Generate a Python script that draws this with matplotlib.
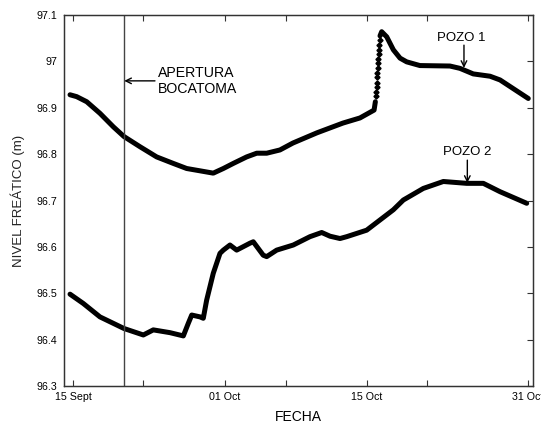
import matplotlib.pyplot as plt
from matplotlib.ticker import FixedLocator, NullFormatter

plt.rcParams['font.family'] = ['Liberation Sans', 'DejaVu Sans']

# days counted from 15 Sept
pozo1_dias = [-0.33, 0.34, 1.36, 2.70, 4.05, 5.13, 6.75, 8.44, 10.12, 11.48, 12.83,
              14.17, 15.19, 16.20, 17.55, 18.57, 19.58, 20.92, 22.24, 24.67, 27.30,
              29.02, 30.45, 30.58]
pozo1_nivel = [96.928, 96.924, 96.913, 96.888, 96.859, 96.838, 96.816, 96.794, 96.780,
               96.769, 96.764, 96.759, 96.769, 96.780, 96.794, 96.802, 96.802, 96.809,
               96.824, 96.846, 96.867, 96.878, 96.895, 96.913]

# steep rise, points visible one by one
salto_dias = [30.64, 30.67, 30.70, 30.73, 30.76, 30.79, 30.82, 30.85, 30.88, 30.91,
              30.94, 30.97, 31.00]
salto_nivel = [96.925, 96.935, 96.945, 96.954, 96.966, 96.974, 96.985, 96.996, 97.005,
               97.015, 97.025, 97.035, 97.046]

pozo1b_dias = [31.05, 31.22, 31.73, 32.40, 33.08, 33.75, 35.09, 38.13, 39.14, 40.49,
               42.19, 43.20, 46.06]
pozo1b_nivel = [97.055, 97.064, 97.053, 97.025, 97.007, 96.999, 96.991, 96.990, 96.985,
                96.973, 96.968, 96.960, 96.920]

pozo2_dias = [-0.33, 1.01, 2.70, 5.13, 7.09, 8.10, 9.79, 11.14, 11.64, 11.99, 12.83,
              13.16, 13.50, 14.17, 14.85, 15.19, 15.86, 16.54, 17.89, 18.22, 19.23,
              19.58, 20.59, 22.27, 23.96, 25.15, 25.99, 27.00, 27.68, 29.70, 31.05,
              32.40, 33.41, 35.43, 37.46, 39.83, 41.51, 43.20, 45.90]
pozo2_nivel = [96.498, 96.478, 96.449, 96.424, 96.410, 96.421, 96.415, 96.408, 96.435,
               96.453, 96.449, 96.446, 96.485, 96.543, 96.586, 96.593, 96.604, 96.593,
               96.608, 96.611, 96.582, 96.579, 96.593, 96.604, 96.622, 96.631, 96.623,
               96.618, 96.622, 96.636, 96.658, 96.680, 96.701, 96.726, 96.741, 96.737,
               96.737, 96.719, 96.694]

xticks_major = [0, 15.36, 29.70, 46]
xticks_labels = ['15 Sept', '01 Oct', '15 Oct', '31 Oct']
xticks_minor = [7.09, 21.5, 35.78]
yticks = [96.3, 96.4, 96.5, 96.6, 96.7, 96.8, 96.9, 97.0, 97.1]
ytick_labels = ['96.3', '96.4', '96.5', '96.6', '96.7', '96.8', '96.9', '97', '97.1']
apertura_dia = 5.16

fig = plt.figure(figsize=(5.41, 4.23), dpi=100)
ax = fig.add_axes([0.1183, 0.0875, 0.8664, 0.877])

ax.plot(pozo1_dias, pozo1_nivel, color='black', lw=3.6, solid_capstyle='round', solid_joinstyle='round')
ax.plot(salto_dias, salto_nivel, 'D', color='black', ms=2.6, mec='black')
ax.plot(pozo1b_dias, pozo1b_nivel, color='black', lw=3.6, solid_capstyle='round', solid_joinstyle='round')
ax.plot(pozo2_dias, pozo2_nivel, color='black', lw=3.6, solid_capstyle='round', solid_joinstyle='round')

ax.axvline(apertura_dia, color='#444444', lw=1)

ax.set_xlim(-0.94, 46.51)
ax.set_ylim(96.3, 97.1)

ax.xaxis.set_major_locator(FixedLocator(xticks_major + xticks_minor))
ax.set_xticklabels(xticks_labels + ['', '', ''])
ax.set_yticks(yticks)
ax.set_yticklabels(ytick_labels)
ax.tick_params(axis='x', direction='in', length=4, width=0.8, top=True, labelsize=7.7, pad=4, color='#333333')
ax.tick_params(axis='y', direction='in', length=0, right=False, labelsize=7.7, pad=5)

# right side ticks drawn inward
ax2 = ax.twinx()
ax2.set_ylim(96.3, 97.1)
ax2.set_yticks(yticks)
ax2.yaxis.set_major_formatter(NullFormatter())
ax2.tick_params(axis='y', direction='in', length=4, width=0.8, color='#333333')

for a in (ax, ax2):
    for s in a.spines.values():
        s.set_color('#333333')
        s.set_linewidth(0.9)

ax.set_xlabel('FECHA', fontsize=10, labelpad=6)
ax.set_ylabel('NIVEL FREÁTICO (m)', fontsize=9.5, labelpad=8, color='#222222')

arrow = dict(arrowstyle='->', color='black', lw=1, shrinkA=0, shrinkB=0)
ax.annotate('', xy=(apertura_dia, 96.958), xytext=(8.27, 96.958), arrowprops=arrow)
ax.text(8.58, 96.958, 'APERTURA\nBOCATOMA', fontsize=10.2, ha='left', va='center', linespacing=1.2)

ax.text(39.32, 97.051, 'POZO 1', fontsize=9.5, ha='center', va='center')
ax.annotate('', xy=(39.55, 96.986), xytext=(39.55, 97.035), arrowprops=arrow)
ax.text(39.83, 96.804, 'POZO 2', fontsize=9.5, ha='center', va='center')
ax.annotate('', xy=(39.89, 96.738), xytext=(39.89, 96.787), arrowprops=arrow)

fig.savefig('out.png', dpi=100)
